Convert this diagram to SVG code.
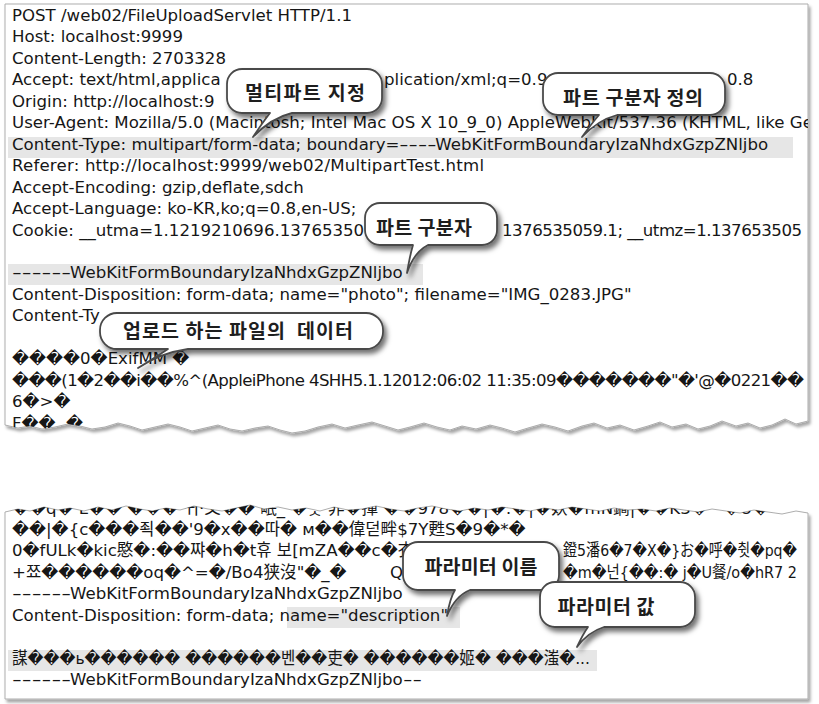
<svg xmlns="http://www.w3.org/2000/svg" width="819" height="704" viewBox="0 0 819 704">
<defs>
<style>
.t{font-family:"DejaVu Sans","Noto Sans CJK KR",sans-serif;font-size:16.6px;fill:#161616;white-space:pre}
.k{font-family:"Noto Sans CJK KR","Noto Sans",sans-serif;font-size:19.5px;font-weight:700;fill:#1e1e1e;text-anchor:middle;white-space:pre}
.hl{fill:#e6e6e6}
.panel{fill:#ffffff;stroke:#adadad;stroke-width:1}
.bub{fill:#ffffff;stroke:#4a4a4a;stroke-width:1.8;stroke-linejoin:round}
</style>
<filter id="bsh" x="-20%" y="-40%" width="150%" height="200%">
<feGaussianBlur in="SourceAlpha" stdDeviation="2.6"/>
<feOffset dx="3" dy="4" result="b"/>
<feFlood flood-color="#000" flood-opacity="0.55"/>
<feComposite in2="b" operator="in"/>
<feMerge><feMergeNode/><feMergeNode in="SourceGraphic"/></feMerge>
</filter>
<filter id="psh" x="-5%" y="-5%" width="110%" height="115%">
<feGaussianBlur in="SourceAlpha" stdDeviation="1.8"/>
<feOffset dx="1.5" dy="2.5" result="b"/>
<feFlood flood-color="#000" flood-opacity="0.35"/>
<feComposite in2="b" operator="in"/>
<feMerge><feMergeNode/><feMergeNode in="SourceGraphic"/></feMerge>
</filter>
<path id="topShape" d="M5,4 H808 V421 L796,424 L785,419 L772,425 L760,428 L748,423 L736,426 L722,421 L710,426 L698,429 L686,424 L672,427 L660,422 L648,426 L634,430 L620,425 L607,428 L594,423 L582,426 L568,431 L555,427 L542,424 L528,428 L515,432 L502,428 L490,425 L476,429 L462,426 L450,430 L437,427 L424,423 L410,427 L398,430 L385,426 L372,422 L358,425 L345,428 L332,424 L318,427 L305,431 L292,433 L280,430 L268,426 L255,428 L242,431 L230,429 L218,425 L205,428 L192,431 L180,427 L168,424 L155,427 L142,430 L130,426 L118,423 L105,427 L92,429 L80,426 L68,424 L55,427 L42,429 L30,426 L18,428 L5,425 Z"/>
<path id="botShape" d="M5,512 L18,509 L30,511 L44,507 L58,510 L70,508 L84,511 L98,507 L112,510 L126,506 L140,509 L152,511 L166,508 L180,510 L194,506 L208,509 L222,511 L236,508 L250,505 L264,509 L278,507 L292,510 L306,508 L320,511 L334,507 L348,510 L362,509 L376,506 L390,509 L404,511 L418,508 L432,506 L446,509 L460,511 L474,508 L488,510 L502,507 L516,509 L530,511 L544,508 L558,510 L572,507 L586,509 L600,511 L614,508 L628,510 L642,509 L656,511 L670,508 L684,510 L698,512 L712,509 L726,511 L740,513 L754,510 L768,512 L782,514 L796,511 L808,513 V699 H5 Z"/>
<clipPath id="clipTop"><use href="#topShape"/></clipPath>
<clipPath id="clipBot"><use href="#botShape"/></clipPath>
</defs>
<rect width="819" height="704" fill="#ffffff"/>

<g id="panel-top">
<use href="#topShape" class="panel" filter="url(#psh)"/>
<g clip-path="url(#clipTop)">
<rect class="hl" x="8" y="137" width="785" height="21"/>
<rect class="hl" x="8" y="264" width="415" height="21"/>
<text class="t" x="12" y="21">POST /web02/FileUploadServlet HTTP/1.1</text>
<text class="t" x="12" y="42.4">Host: localhost:9999</text>
<text class="t" x="12" y="63.9">Content-Length: 2703328</text>
<text class="t" x="12" y="85.3">Accept: text/html,applica</text>
<text class="t" x="384" y="85.3">plication/xml;q=0.9</text>
<text class="t" x="727" y="85.3">0.8</text>
<text class="t" x="12" y="106.8">Origin: http://localhost:9</text>
<text class="t" x="12" y="128.2">User-Agent: Mozilla/5.0 (Macintosh; Intel Mac OS X 10_9_0) AppleWebKit/537.36 (KHTML, like Ge</text>
<text class="t" x="12" y="149.7">Content-Type: multipart/form-data; boundary=<tspan textLength="36" lengthAdjust="spacingAndGlyphs">----</tspan>WebKitFormBoundaryIzaNhdxGzpZNljbo</text>
<text class="t" x="12" y="171.1" textLength="472" lengthAdjust="spacing">Referer: http://localhost:9999/web02/MultipartTest.html</text>
<text class="t" x="12" y="192.6">Accept-Encoding: gzip,deflate,sdch</text>
<text class="t" x="12" y="214">Accept-Language: ko-KR,ko;q=0.8,en-US;</text>
<text class="t" x="12" y="235.5">Cookie: __utma=1.1219210696.13765350</text>
<text class="t" x="502" y="235.5" textLength="300" lengthAdjust="spacing">1376535059.1; __utmz=1.137653505</text>
<text class="t" x="12" y="278.4"><tspan textLength="58" lengthAdjust="spacingAndGlyphs">------</tspan>WebKitFormBoundaryIzaNhdxGzpZNljbo</text>
<text class="t" x="12" y="299.8">Content-Disposition: form-data; name="photo"; filename="IMG_0283.JPG"</text>
<text class="t" x="12" y="321.3">Content-Ty</text>
<text class="t" x="12" y="364.2">����0�ExifMM �</text>
<text class="t" x="12" y="385.6" textLength="792" lengthAdjust="spacing">���(1�2��i��%^(AppleiPhone 4SHH5.1.12012:06:02 11:35:09�������"�'@�0221��</text>
<text class="t" x="12" y="407.1">6�&gt;�</text>
<text class="t" x="12" y="428.5">F��  �</text>
</g>
</g>

<g id="panel-bottom">
<use href="#botShape" class="panel" filter="url(#psh)"/>
<g clip-path="url(#clipBot)">
<rect class="hl" x="287" y="607" width="173" height="21"/>
<rect class="hl" x="8" y="650" width="589" height="21"/>
<text class="t" x="12" y="513.5">��q� L�� ��� 귀·父�� 岷_ �ᆺ 非�揮 ��978��|�:�|�妖�mN鐧|��K3�ᆢ�U�</text>
<text class="t" x="12" y="535">��|�{c���죅��'9�x��따� м��偉덛畔$7Y甦S�9�*�</text>
<text class="t" x="12" y="556.4">0�fULk�kic愍�:��쨔�h�t휴 보[mZA��c�衣</text>
<text class="t" x="563" y="556.4" textLength="234" lengthAdjust="spacingAndGlyphs">鐙5潘6�7�X�}お�呼�췻�pq�</text>
<text class="t" x="12" y="577.9">+쬬������oq�^=�/Bo4狭沒"�_�</text>
<text class="t" x="390" y="577.9">Q</text>
<text class="t" x="563" y="577.9" textLength="234" lengthAdjust="spacingAndGlyphs">�m�넌{��:� j�U餐/o�hR7 2</text>
<text class="t" x="12" y="599.3"><tspan textLength="58" lengthAdjust="spacingAndGlyphs">------</tspan>WebKitFormBoundaryIzaNhdxGzpZNljbo</text>
<text class="t" x="12" y="620.8">Content-Disposition: form-data; name="description"</text>
<text class="t" x="12" y="663.7" textLength="578" lengthAdjust="spacingAndGlyphs">謀���ь������ ������벤��吏� ������姬� ���滍�...</text>
<text class="t" x="12" y="685.1"><tspan textLength="58" lengthAdjust="spacingAndGlyphs">------</tspan>WebKitFormBoundaryIzaNhdxGzpZNljbo<tspan textLength="19" lengthAdjust="spacingAndGlyphs">--</tspan></text>
</g>
</g>

<g id="callout-multipart">
<path class="bub" filter="url(#bsh)" d="M242,69 H367 A15,15 0 0 1 382,84 V98 A15,15 0 0 1 367,113 H292 Q271,118 253,137 Q263,122 270,113 H242 A15,15 0 0 1 227,98 V84 A15,15 0 0 1 242,69 Z"/>
<text class="k" x="305" y="100" textLength="120" lengthAdjust="spacing">멀티파트 지정</text>
</g>
<g id="callout-boundary-def">
<path class="bub" filter="url(#bsh)" d="M558,73 H710 A15,15 0 0 1 725,88 V100 A15,15 0 0 1 710,115 H617 Q598,120 582,137 Q592,123 599,115 H558 A15,15 0 0 1 543,100 V88 A15,15 0 0 1 558,73 Z"/>
<text class="k" x="633" y="105" textLength="140" lengthAdjust="spacing">파트 구분자 정의</text>
</g>
<g id="callout-boundary">
<path class="bub" filter="url(#bsh)" d="M380,203 H482 A15,15 0 0 1 497,218 V230 A15,15 0 0 1 482,245 H428 Q414,252 407,273 Q410,255 413,245 H380 A15,15 0 0 1 365,230 V218 A15,15 0 0 1 380,203 Z"/>
<text class="k" x="424" y="235" textLength="96" lengthAdjust="spacing">파트 구분자</text>
</g>
<g id="callout-filedata">
<path class="bub" filter="url(#bsh)" d="M117,313 H366 A17,17 0 0 1 383,330 V332 A17,17 0 0 1 366,349 H188 Q160,353 138,368 Q156,357 168,349 H117 A17,17 0 0 1 100,332 V330 A17,17 0 0 1 117,313 Z"/>
<text class="k" x="238" y="338" textLength="230" lengthAdjust="spacing" xml:space="preserve">업로드 하는 파일의  데이터</text>
</g>
<g id="callout-param-name">
<path class="bub" filter="url(#bsh)" d="M418,542 H544 A15,15 0 0 1 559,557 V575 A15,15 0 0 1 544,590 H470 Q455,596 447,616 Q450,598 455,590 H418 A15,15 0 0 1 403,575 V557 A15,15 0 0 1 418,542 Z"/>
<text class="k" x="481" y="574" textLength="113" lengthAdjust="spacing">파라미터 이름</text>
</g>
<g id="callout-param-value">
<path class="bub" filter="url(#bsh)" d="M555,582 H680 A15,15 0 0 1 695,597 V612 A15,15 0 0 1 680,627 H604 Q588,632 577,647 Q583,634 588,627 H555 A15,15 0 0 1 540,612 V597 A15,15 0 0 1 555,582 Z"/>
<text class="k" x="606" y="614" textLength="97" lengthAdjust="spacing">파라미터 값</text>
</g>
</svg>
